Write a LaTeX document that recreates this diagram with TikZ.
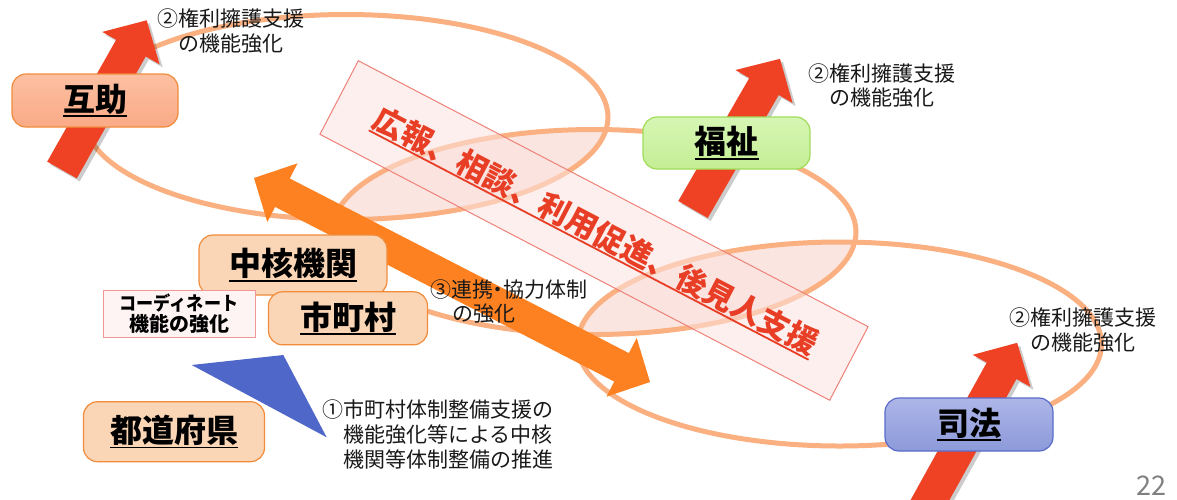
\documentclass[tikz,border=0pt]{standalone}
\usepackage{fontspec}
\usepackage{graphicx}
\setmainfont{Noto Sans CJK JP}
\definecolor{ringc}{RGB}{250,176,128}
\definecolor{lensc}{RGB}{250,229,225}
\definecolor{bandedge}{RGB}{238,130,120}
\definecolor{bandfillc}{RGB}{252,226,224}
\definecolor{bandtextc}{RGB}{232,62,38}
\definecolor{redarr}{RGB}{239,66,36}
\definecolor{orarr}{RGB}{253,129,33}
\definecolor{peach}{RGB}{251,214,182}
\definecolor{peachedge}{RGB}{240,140,60}
\definecolor{salmonA}{RGB}{252,192,162}
\definecolor{salmonB}{RGB}{250,170,134}
\definecolor{greenA}{RGB}{214,246,180}
\definecolor{greenB}{RGB}{196,238,148}
\definecolor{greenedge}{RGB}{160,220,90}
\definecolor{blueA}{RGB}{174,182,232}
\definecolor{blueB}{RGB}{140,154,218}
\definecolor{blueedge}{RGB}{90,108,200}
\definecolor{tric}{RGB}{79,103,200}
\definecolor{txt}{RGB}{25,25,25}
\definecolor{coordedge}{RGB}{240,150,150}
\definecolor{coordfill}{RGB}{254,244,244}
\newsavebox\ulbox
\newcommand{\myul}[2][0.19em]{\sbox\ulbox{#2}\rlap{\rule[-#1]{\wd\ulbox}{1.8pt}}\usebox\ulbox}
\newcommand{\redarrow}[3]{%
  \begin{scope}[shift={#1}, xshift=3pt, yshift=-3pt, rotate=#2]
    \fill[black, opacity=0.2] (0,-17) -- ({#3-32},-17) -- ({#3-32},-33) -- (#3,0) -- ({#3-32},33) -- ({#3-32},17) -- (0,17) -- cycle;
  \end{scope}
  \begin{scope}[shift={#1}, rotate=#2]
    \fill[redarr] (0,-17) -- ({#3-32},-17) -- ({#3-32},-33) -- (#3,0) -- ({#3-32},33) -- ({#3-32},17) -- (0,17) -- cycle;
  \end{scope}}
\begin{document}
\begin{tikzpicture}[x=1pt,y=-1pt,
  ring/.style={draw=ringc, line width=5pt},
  lbl/.style={font=\fontsize{21}{25}\selectfont, text=txt, inner sep=0pt, anchor=base west},
  boxlbl/.style={rounded corners=14pt, line width=1.2pt, inner sep=0pt, font=\fontsize{32}{38}\selectfont\bfseries, text=black},
  peachbox/.style={boxlbl, draw=peachedge, fill=peach},
  salmonbox/.style={boxlbl, draw=peachedge, top color=salmonA, bottom color=salmonB},
  greenbox/.style={boxlbl, draw=greenedge, top color=greenA, bottom color=greenB},
  bluebox/.style={boxlbl, draw=blueedge, top color=blueA, bottom color=blueB}]
\useasboundingbox (0,0) rectangle (1177,499);
\fill[white] (0,0) rectangle (1177,499);
% lenses
\begin{scope}
  \clip (346,117) ellipse [x radius=262pt, y radius=102.5pt];
  \fill[lensc] (594,232) ellipse [x radius=262pt, y radius=102.5pt];
\end{scope}
\begin{scope}
  \clip (594,232) ellipse [x radius=262pt, y radius=102.5pt];
  \fill[lensc] (839.5,344) ellipse [x radius=262pt, y radius=102pt];
\end{scope}
% rings
\draw[ring] (346,117) ellipse [x radius=262pt, y radius=102.5pt];
\draw[ring] (594,232) ellipse [x radius=262pt, y radius=102.5pt];
\draw[ring] (839.5,344) ellipse [x radius=262pt, y radius=102pt];
% band
\begin{scope}[shift={(594,230.5)}, rotate=-27.55]
  \filldraw[fill=bandfillc, fill opacity=0.55, draw=bandedge, line width=1pt] (-287.5,-41.5) rectangle (287.5,41.5);
  \node[transform shape, anchor=base, text=bandtextc, font=\fontsize{31}{37}\selectfont\bfseries, inner sep=0pt] (bandtext) at (2,11) {\myul[0.17em]{広報、相談、利用促進、後見人支援}};
\end{scope}
% red arrows
\redarrow{(62,170)}{60.5}{172}
\redarrow{(693,209.5)}{60}{174}
\redarrow{(925,509)}{61}{190}
% orange double arrow
\begin{scope}[shift={(452,280)}, rotate=-27.25]
  \fill[orarr] (-222.75,0) -- (-190.75,-33) -- (-190.75,-16) -- (190.75,-16) -- (190.75,-33) -- (222.75,0) -- (190.75,33) -- (190.75,16) -- (-190.75,16) -- (-190.75,33) -- cycle;
\end{scope}
% blue triangle
\fill[tric] (191.7,365) -- (283.3,355) -- (326.7,437.3) -- cycle;
% boxes
\node[salmonbox, minimum width=166pt, minimum height=53pt] (gojo) at (95,100.5) {\myul{互助}};
\node[greenbox, minimum width=167pt, minimum height=52pt] (fukushi) at (726.5,143) {\myul{福祉}};
\node[peachbox, minimum width=188pt, minimum height=60pt] (chukaku) at (293,265) {\myul{中核機関}};
\node[peachbox, minimum width=159pt, minimum height=53pt] (shichoson) at (348,318.3) {\myul{市町村}};
\node[peachbox, minimum width=181pt, minimum height=60pt] (todofuken) at (174,431.7) {\myul{都道府県}};
\node[bluebox, minimum width=168pt, minimum height=53pt] (shiho) at (969,424.5) {\myul{司法}};
\node[draw=coordedge, fill=coordfill, line width=1pt, minimum width=152pt, minimum height=47pt, inner sep=0pt] (coordbox) at (179,314.3) {};
\node[font=\fontsize{19}{22}\selectfont\bfseries, text=black, inner sep=0pt, anchor=base] (coord1) at (179,310) {\scalebox{0.9}[1]{コーディネート}};
\node[font=\fontsize{20}{22}\selectfont\bfseries, text=black, inner sep=0pt, anchor=base] (coord2) at (179,331) {機能の強化};
% labels
\node[lbl] (t1a) at (157,26) {②権利擁護支援};
\node[lbl] (t1b) at (178,51) {の機能強化};
\node[lbl] (t2a) at (808,81) {②権利擁護支援};
\node[lbl] (t2b) at (829,105) {の機能強化};
\node[lbl] (t3a) at (1009,325) {②権利擁護支援};
\node[lbl] (t3b) at (1030,350) {の機能強化};
\node[lbl] (t4a) at (430,297) {③連携\kern-0.25em・\kern-0.25em協力体制};
\node[lbl] (t4b) at (452,321) {の強化};
\node[lbl] (t5a) at (322,417) {①市町村体制整備支援の};
\node[lbl] (t5b) at (343,442) {機能強化等による中核};
\node[lbl] (t5c) at (343,467) {機関等体制整備の推進};
\node[font=\fontsize{27}{30}\selectfont, text=black!50, inner sep=0pt, anchor=base east] (pagenum) at (1167,495) {22};
\end{tikzpicture}
\end{document}
